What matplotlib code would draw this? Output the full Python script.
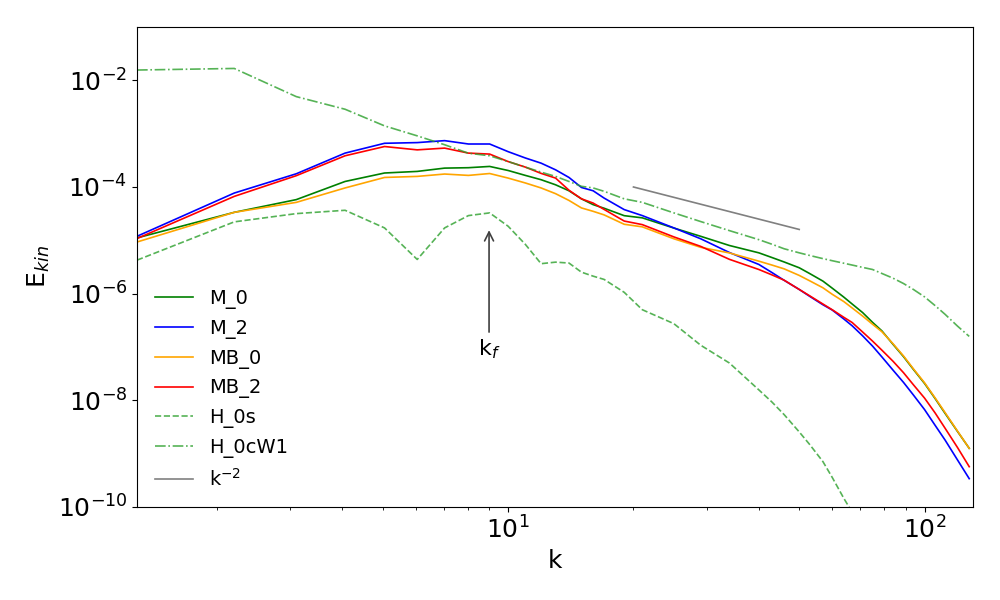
import matplotlib
matplotlib.use('Agg')
import matplotlib.pyplot as plt
import numpy as np
from matplotlib.ticker import NullLocator

# shell-averaged wavenumbers
k = [1.285, 2.2, 3.1, 4.06, 5.05, 6.05, 7.04, 8.03, 9.03, 10.0, 11.0, 12.0,
     13.0, 14.0, 15.0, 16.0, 17.0, 19.0, 21.0, 25.0, 29.0, 34.0, 40.0,
     43.0, 46.0, 50.0, 53.0, 57.0, 60.0, 64.0, 67.0, 71.0, 75.0, 79.0, 84.0,
     89.0, 94.0, 100.0, 106.0, 112.0, 120.0, 128.0]

M_0 = [1.11e-5, 3.35e-5, 5.8e-5, 1.27e-4, 1.83e-4, 1.96e-4, 2.26e-4, 2.3e-4,
       2.43e-4, 2.04e-4, 1.65e-4, 1.37e-4, 1.1e-4, 8.5e-5, 6.0e-5, 4.67e-5,
       4.0e-5, 2.9e-5, 2.64e-5, 1.7e-5, 1.19e-5, 8.0e-6, 5.83e-6,
       4.76e-6, 3.93e-6, 3.06e-6, 2.38e-6, 1.72e-6, 1.27e-6, 8.6e-7, 6.4e-7,
       4.42e-7, 2.9e-7, 2.0e-7, 1.12e-7, 6.6e-8, 3.8e-8, 2.07e-8, 1.08e-8,
       5.7e-9, 2.6e-9, 1.26e-9]

M_2 = [1.19e-5, 7.7e-5, 1.77e-4, 4.32e-4, 6.6e-4, 6.8e-4, 7.4e-4, 6.4e-4,
       6.4e-4, 4.6e-4, 3.5e-4, 2.8e-4, 2.1e-4, 1.51e-4, 9.8e-5, 8.5e-5,
       6.2e-5, 3.77e-5, 2.91e-5, 1.71e-5, 1.07e-5, 5.9e-6, 3.53e-6,
       2.49e-6, 1.78e-6, 1.2e-6, 8.9e-7, 6.2e-7, 4.94e-7, 3.35e-7, 2.5e-7,
       1.62e-7, 1.04e-7, 6.5e-8, 3.68e-8, 2.17e-8, 1.26e-8, 6.7e-9, 3.4e-9,
       1.8e-9, 7.6e-10, 3.4e-10]

MB_0 = [9.3e-6, 3.35e-5, 5.15e-5, 9.6e-5, 1.51e-4, 1.58e-4, 1.75e-4, 1.65e-4,
        1.79e-4, 1.47e-4, 1.19e-4, 9.6e-5, 7.5e-5, 5.6e-5, 4.05e-5, 3.5e-5,
        3.0e-5, 2.0e-5, 1.79e-5, 1.07e-5, 7.4e-6, 5.8e-6, 4.07e-6,
        3.44e-6, 2.92e-6, 2.2e-6, 1.74e-6, 1.29e-6, 9.75e-7, 7.1e-7, 5.4e-7,
        3.8e-7, 2.67e-7, 1.93e-7, 1.15e-7, 6.8e-8, 3.9e-8, 2.13e-8, 1.11e-8,
        5.9e-9, 2.64e-9, 1.26e-9]

MB_2 = [1.08e-5, 6.67e-5, 1.63e-4, 3.85e-4, 5.74e-4, 4.97e-4, 5.36e-4, 4.32e-4,
        4.14e-4, 3.0e-4, 2.36e-4, 1.8e-4, 1.47e-4, 8.7e-5, 6.0e-5, 5.0e-5,
        3.8e-5, 2.3e-5, 1.97e-5, 1.16e-5, 7.7e-6, 4.4e-6, 2.84e-6,
        2.25e-6, 1.79e-6, 1.2e-6, 9.1e-7, 6.4e-7, 5.0e-7, 3.6e-7, 2.88e-7,
        1.91e-7, 1.29e-7, 8.7e-8, 5.4e-8, 3.3e-8, 1.96e-8, 1.1e-8, 5.8e-9,
        3.0e-9, 1.3e-9, 5.7e-10]

H_0s = [4.25e-6, 2.22e-5, 3.17e-5, 3.66e-5, 1.71e-5, 4.38e-6, 1.71e-5, 2.91e-5,
        3.27e-5, 1.84e-5, 8.4e-6, 3.65e-6, 3.9e-6, 3.75e-6, 2.53e-6, 2.13e-6,
        1.85e-6, 1.06e-6, 5.0e-7, 2.74e-7, 1.08e-7, 5.0e-8, 1.57e-8,
        9.3e-9, 5.4e-9, 2.56e-9, 1.48e-9, 7.1e-10, 3.6e-10, 1.45e-10, 8e-11,
        3.8e-11, 1.8e-11, 9e-12, 3.5e-12, 1.5e-12, 7e-13, 3e-13, 1.4e-13,
        6e-14, 2.5e-14, 1e-14]

H_0cW1 = [1.56e-2, 1.67e-2, 4.95e-3, 2.87e-3, 1.4e-3, 9.1e-4, 6.2e-4, 4.3e-4,
          3.85e-4, 3.0e-4, 2.36e-4, 1.9e-4, 1.58e-4, 1.27e-4, 1.03e-4, 9.6e-5,
          8.3e-5, 6.0e-5, 5.15e-5, 3.27e-5, 2.25e-5, 1.52e-5, 1.03e-5,
          8.45e-6, 6.95e-6, 5.83e-6, 5.2e-6, 4.54e-6, 4.15e-6, 3.72e-6, 3.44e-6,
          3.11e-6, 2.84e-6, 2.39e-6, 1.95e-6, 1.55e-6, 1.2e-6, 8.7e-7, 5.97e-7,
          4.1e-7, 2.46e-7, 1.58e-7]

# reference slope k^-2
k_ref = [20, 50]
E_ref = [1.0e-4, 1.6e-5]

k_f = 9

fig, ax = plt.subplots(figsize=(10, 6), dpi=100)
fig.subplots_adjust(left=0.137, right=0.973, top=0.955, bottom=0.155)

ax.loglog(k, M_0, color='green', lw=1.2, label='M_0')
ax.loglog(k, M_2, color='blue', lw=1.2, label='M_2')
ax.loglog(k, MB_0, color='orange', lw=1.2, label='MB_0')
ax.loglog(k, MB_2, color='red', lw=1.2, label='MB_2')
ax.loglog(k, H_0s, color='tab:green', ls='--', lw=1.2, alpha=0.8, label='H_0s')
ax.loglog(k, H_0cW1, color='tab:green', ls='-.', lw=1.2, alpha=0.8, label='H_0cW1')
ax.loglog(k_ref, E_ref, color='gray', lw=1.2, label='k$^{-2}$')

ax.annotate('k$_f$', xy=(k_f, 1.75e-5), xytext=(k_f, 9e-8), ha='center', va='center',
            fontsize=16, arrowprops=dict(arrowstyle='->', color='0.25', lw=1.2))

ax.set_xlim(1.285, 130.7)
ax.set_ylim(1e-10, 1e-1)
ax.yaxis.set_minor_locator(NullLocator())
ax.tick_params(labelsize=18)
ax.set_xlabel('k', fontsize=18)
ax.set_ylabel('E$_{kin}$', fontsize=18)
ax.legend(loc='lower left', frameon=False, fontsize=14)

plt.savefig('out.png')
